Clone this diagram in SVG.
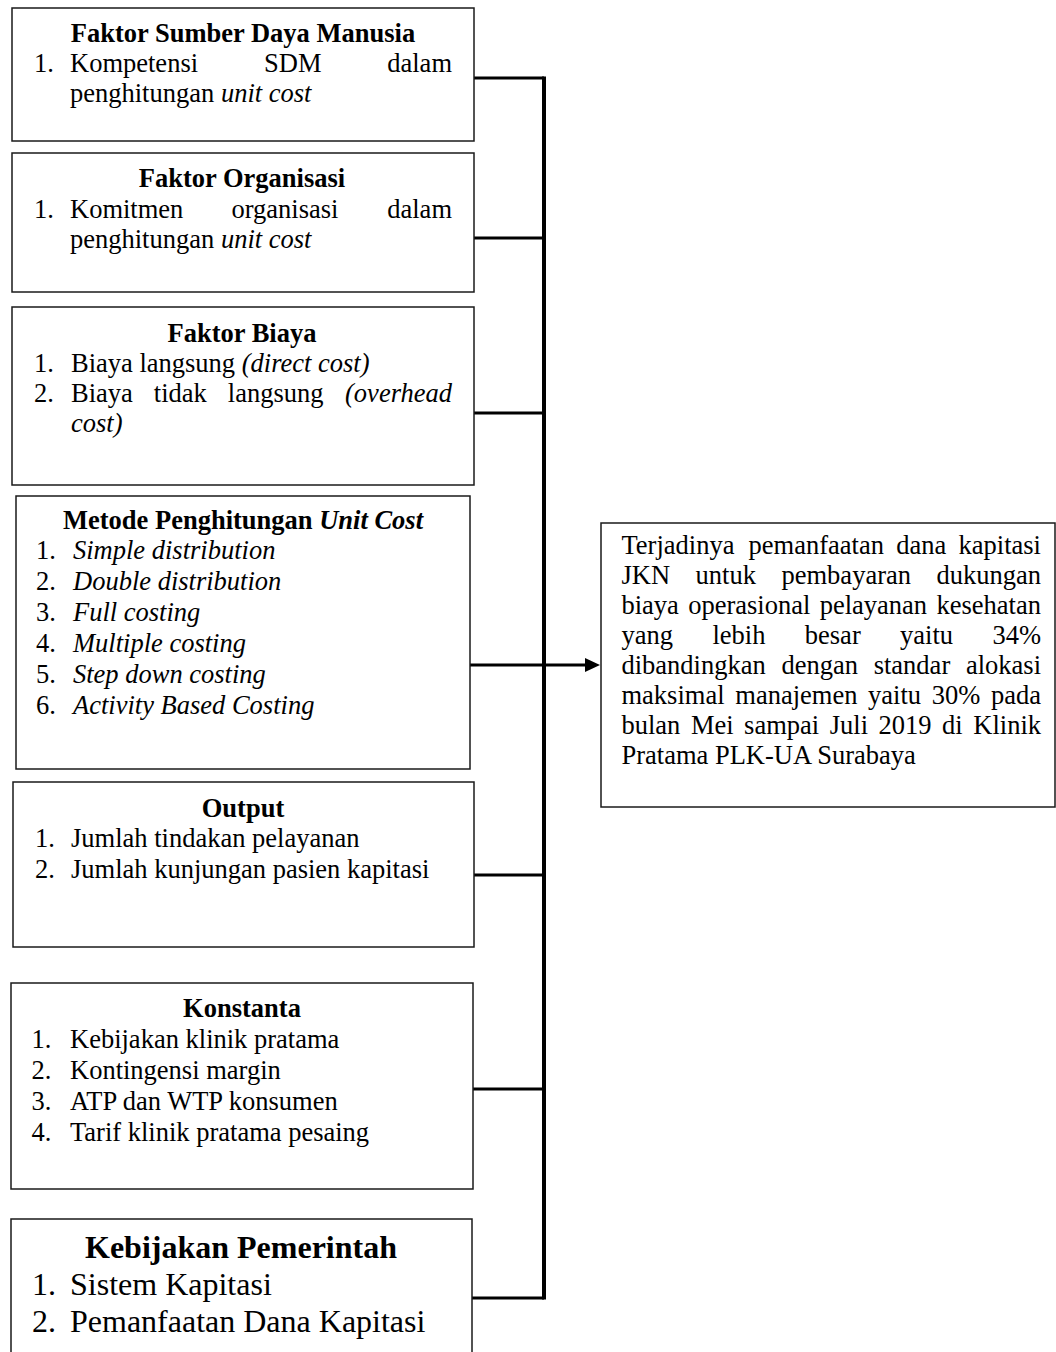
<svg xmlns="http://www.w3.org/2000/svg" width="1056" height="1352" viewBox="0 0 1056 1352">
<style>
.box{fill:#fff;stroke:#1a1a1a;stroke-width:1.5}
.t{font-family:"Liberation Serif","Times New Roman",serif;font-size:26.5px;fill:#000}
.big{font-size:32px}
.b{font-weight:bold}
.i{font-style:italic}
.c{text-anchor:middle}
.e{text-anchor:end}
.con{stroke:#000;stroke-width:3;fill:none}
</style>
<defs>
<marker id="arr" viewBox="0 0 15 14" refX="3" refY="7" markerWidth="15" markerHeight="14" markerUnits="userSpaceOnUse" orient="auto">
<path d="M0,0 L15,7 L0,14 z" fill="#000"/>
</marker>
</defs>
<rect width="1056" height="1352" fill="#fff"/>

<g id="connectors">
<line class="con" x1="474" y1="78" x2="544" y2="78"/>
<line class="con" x1="474" y1="238" x2="544" y2="238"/>
<line class="con" x1="474" y1="413" x2="544" y2="413"/>
<line class="con" x1="474" y1="875" x2="544" y2="875"/>
<line class="con" x1="473" y1="1089" x2="544" y2="1089"/>
<line class="con" x1="472" y1="1298" x2="544" y2="1298"/>
<line class="con" x1="544" y1="76.5" x2="544" y2="1299.5" style="stroke-width:4"/>
<line class="con" x1="470" y1="665" x2="588" y2="665" marker-end="url(#arr)"/>
</g>

<g id="sdm">
<rect class="box" x="12" y="8" width="462" height="133"/>
<text class="t b c" x="243" y="42">Faktor Sumber Daya Manusia</text>
<text class="t" x="34" y="72">1.</text>
<text class="t" x="70" y="72">Kompetensi</text>
<text class="t" x="264" y="72">SDM</text>
<text class="t e" x="452" y="72">dalam</text>
<text class="t" x="70" y="102">penghitungan <tspan class="i">unit cost</tspan></text>
</g>

<g id="organisasi">
<rect class="box" x="12" y="153" width="462" height="139"/>
<text class="t b c" x="242" y="187">Faktor Organisasi</text>
<text class="t" x="34" y="218">1.</text>
<text class="t" x="70" y="218">Komitmen</text>
<text class="t" x="231.5" y="218">organisasi</text>
<text class="t e" x="452" y="218">dalam</text>
<text class="t" x="70" y="248">penghitungan <tspan class="i">unit cost</tspan></text>
</g>

<g id="biaya">
<rect class="box" x="12" y="307" width="462" height="178"/>
<text class="t b c" x="242" y="342">Faktor Biaya</text>
<text class="t" x="34" y="372">1.</text>
<text class="t" x="71" y="372">Biaya langsung <tspan class="i">(direct cost)</tspan></text>
<text class="t" x="34" y="402">2.</text>
<text class="t" x="71" y="402">Biaya</text>
<text class="t" x="153.8" y="402">tidak</text>
<text class="t" x="227.8" y="402">langsung</text>
<text class="t i e" x="452" y="402">(overhead</text>
<text class="t i" x="71" y="432">cost)</text>
</g>

<g id="metode">
<rect class="box" x="16" y="496" width="454" height="273"/>
<text class="t b c" x="243" y="529">Metode Penghitungan <tspan class="i">Unit Cost</tspan></text>
<text class="t" x="36" y="559">1.</text>
<text class="t i" x="73" y="559">Simple distribution</text>
<text class="t" x="36" y="590">2.</text>
<text class="t i" x="73" y="590">Double distribution</text>
<text class="t" x="36" y="621">3.</text>
<text class="t i" x="73" y="621">Full costing</text>
<text class="t" x="36" y="652">4.</text>
<text class="t i" x="73" y="652">Multiple costing</text>
<text class="t" x="36" y="683">5.</text>
<text class="t i" x="73" y="683">Step down costing</text>
<text class="t" x="36" y="714">6.</text>
<text class="t i" x="73" y="714">Activity Based Costing</text>
</g>

<g id="output">
<rect class="box" x="13" y="782" width="461" height="165"/>
<text class="t b c" x="243" y="817">Output</text>
<text class="t" x="35" y="847">1.</text>
<text class="t" x="71" y="847">Jumlah tindakan pelayanan</text>
<text class="t" x="35" y="878">2.</text>
<text class="t" x="71" y="878">Jumlah kunjungan pasien kapitasi</text>
</g>

<g id="konstanta">
<rect class="box" x="11" y="983" width="462" height="206"/>
<text class="t b c" x="242" y="1017">Konstanta</text>
<text class="t" x="31.5" y="1048">1.</text>
<text class="t" x="70" y="1048">Kebijakan klinik pratama</text>
<text class="t" x="31.5" y="1079">2.</text>
<text class="t" x="70" y="1079">Kontingensi margin</text>
<text class="t" x="31.5" y="1110">3.</text>
<text class="t" x="70" y="1110">ATP dan WTP konsumen</text>
<text class="t" x="31.5" y="1141">4.</text>
<text class="t" x="70" y="1141">Tarif klinik pratama pesaing</text>
</g>

<g id="kebijakan">
<rect class="box" x="11" y="1219" width="461" height="150"/>
<text class="t big b c" x="241" y="1258">Kebijakan Pemerintah</text>
<text class="t big" x="32" y="1295">1.</text>
<text class="t big" x="70" y="1295">Sistem Kapitasi</text>
<text class="t big" x="32" y="1332">2.</text>
<text class="t big" x="70" y="1332">Pemanfaatan Dana Kapitasi</text>
</g>

<g id="hasil">
<rect class="box" x="601" y="523" width="454" height="284"/>
<text class="t" x="621.5" y="554">Terjadinya</text>
<text class="t" x="748.6" y="554">pemanfaatan</text>
<text class="t" x="896.3" y="554">dana</text>
<text class="t e" x="1041" y="554">kapitasi</text>
<text class="t" x="621.5" y="584">JKN</text>
<text class="t" x="695.6" y="584">untuk</text>
<text class="t" x="781.5" y="584">pembayaran</text>
<text class="t e" x="1041" y="584">dukungan</text>
<text class="t" x="621.5" y="614">biaya</text>
<text class="t" x="688.2" y="614">operasional</text>
<text class="t" x="819.7" y="614">pelayanan</text>
<text class="t e" x="1041" y="614">kesehatan</text>
<text class="t" x="621.5" y="644">yang</text>
<text class="t" x="712.4" y="644">lebih</text>
<text class="t" x="804.8" y="644">besar</text>
<text class="t" x="900.1" y="644">yaitu</text>
<text class="t e" x="1041" y="644">34%</text>
<text class="t" x="621.5" y="674">dibandingkan</text>
<text class="t" x="781.5" y="674">dengan</text>
<text class="t" x="873.7" y="674">standar</text>
<text class="t e" x="1041" y="674">alokasi</text>
<text class="t" x="621.5" y="704">maksimal</text>
<text class="t" x="735.3" y="704">manajemen</text>
<text class="t" x="868.1" y="704">yaitu</text>
<text class="t" x="931.8" y="704">30%</text>
<text class="t e" x="1041" y="704">pada</text>
<text class="t" x="621.5" y="734">bulan</text>
<text class="t" x="690.9" y="734">Mei</text>
<text class="t" x="744.1" y="734">sampai</text>
<text class="t" x="829.8" y="734">Juli</text>
<text class="t" x="878.6" y="734">2019</text>
<text class="t" x="942.1" y="734">di</text>
<text class="t e" x="1041" y="734">Klinik</text>
<text class="t" x="621.5" y="764">Pratama PLK-UA Surabaya</text>
</g>
</svg>
